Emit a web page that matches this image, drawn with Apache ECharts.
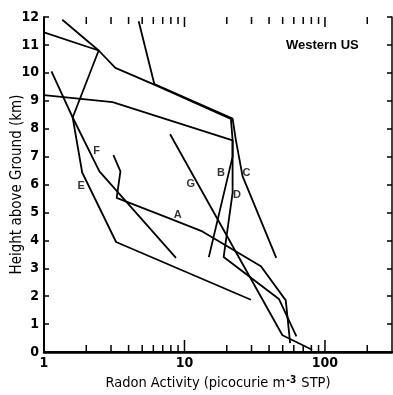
<!DOCTYPE html>
<html>
<head>
    <meta charset="utf-8"/>
    <title>Radon profiles - Western US</title>
    <style>
        html, body { margin: 0; padding: 0; background: #fff; }
        #main { width: 393px; height: 395px; }
    </style>
</head>
<body>
<div id="main"></div>
<script src="https://cdn.jsdelivr.net/npm/echarts@6/dist/echarts.min.js"></script>
<script>
    // profiles: [radon activity, height km]
    var curveA = [[3.12, 7.05], [3.5, 6.47], [3.29, 5.52], [7.18, 4.86], [13.4, 4.32], [35, 3.07], [52.6, 1.85], [56.5, 0.32]];
    var curveB = [[1.0, 9.2], [3.08, 8.95], [22, 7.58], [22, 7.0], [14.9, 3.4]];
    var curveC = [[4.72, 11.85], [6.1, 9.6], [22, 8.36], [23.2, 7.6], [25.9, 6.3], [45, 3.37]];
    var curveD = [[1.0, 11.45], [2.45, 10.8], [3.22, 10.18], [6.1, 9.58], [21.4, 8.35], [22, 7.6], [22, 5.7], [19, 3.4], [47, 1.9], [62.6, 0.56]];
    var curveE = [[1.13, 10.05], [1.6, 8.4], [1.87, 6.43], [3.26, 3.94], [29.7, 1.87]];
    var curveF = [[1.35, 11.9], [2.45, 10.8], [1.6, 8.4], [2.48, 6.47], [8.7, 3.37]];
    var curveG = [[7.9, 7.8], [49.8, 0.6], [81, 0.08]];

    var curveNames = ['A', 'B', 'C', 'D', 'E', 'F', 'G'];
    var labelPoints = [[8.94, 4.92], [18.2, 6.42], [27.6, 6.42], [23.6, 5.64], [1.84, 5.95], [2.37, 7.19], [11.1, 6.03]];

    var xLabels = [1, 10, 100];
    var xMajorTicks = [1, 10, 100];
    var xMinorTicks = [2, 3, 4, 5, 6, 7, 8, 9, 20, 30, 40, 50, 60, 70, 80, 90, 200];

    var narrow = "'Liberation Sans Narrow', 'DejaVu Sans Condensed', sans-serif";

    var chart = echarts.init(document.getElementById('main'), null, {renderer: 'canvas'});

    var curves = [curveA, curveB, curveC, curveD, curveE, curveF, curveG];
    var series = curves.map(function (c, i) {
        return {
            name: curveNames[i],
            type: 'line',
            data: c,
            showSymbol: false,
            silent: true,
            lineStyle: {color: '#000', width: 1.8},
            z: 3
        };
    });

    // letter labels next to each profile
    series.push({
        type: 'scatter',
        symbolSize: 0,
        silent: true,
        data: labelPoints.map(function (p, i) {
            return {name: curveNames[i], value: p};
        }),
        label: {
            show: true,
            position: 'inside',
            formatter: '{b}',
            color: '#000',
            fontSize: 11,
            fontWeight: 'bold',
            fontFamily: 'Liberation Sans, Arial, sans-serif'
        },
        z: 4
    });

    // log ticks on bottom and top frame (inward)
    var tickData = xMajorTicks.map(function (v) { return [v, 1]; })
        .concat(xMinorTicks.map(function (v) { return [v, 0]; }));
    series.push({
        type: 'custom',
        silent: true,
        data: tickData,
        renderItem: function (params, api) {
            var v = api.value(0);
            var major = api.value(1);
            var b = api.coord([v, 0]);
            var t = api.coord([v, 12]);
            var st = {stroke: '#000', lineWidth: 1.5};
            return {
                type: 'group',
                children: [
                    {type: 'line', shape: {x1: b[0], y1: b[1], x2: b[0], y2: b[1] - (major ? 12 : 7)}, style: st},
                    {type: 'line', shape: {x1: t[0], y1: t[1], x2: t[0], y2: t[1] + (major ? 10 : 7)}, style: st}
                ]
            };
        },
        z: 5
    });

    var option = {
        animation: false,
        backgroundColor: '#fff',
        title: {
            text: 'Western US',
            left: 281,
            top: 34,
            textStyle: {
                fontSize: 13,
                fontWeight: 'bold',
                color: '#000',
                fontFamily: 'Liberation Sans, Arial, sans-serif'
            }
        },
        grid: {left: 44, right: 1, top: 17, bottom: 43, outerBoundsMode: 'none'},
        xAxis: [{
            type: 'log',
            logBase: 10,
            min: 1,
            max: 300,
            position: 'bottom',
            name: 'Radon Activity (picocurie m{sup|-3} STP)',
            nameLocation: 'middle',
            nameGap: 23,
            nameTextStyle: {
                color: '#000',
                fontSize: 14.5,
                fontFamily: narrow,
                rich: {
                    sup: {fontSize: 10, fontFamily: narrow, fontWeight: 'bold', color: '#000',
                        verticalAlign: 'bottom', padding: [0, 1, 7, 1]}
                }
            },
            axisLine: {show: true, lineStyle: {color: '#000', width: 2.5}},
            axisTick: {show: false},
            splitLine: {show: false},
            axisLabel: {
                color: '#000',
                fontSize: 14,
                fontWeight: 'bold',
                fontFamily: narrow,
                margin: 4,
                showMaxLabel: false,
                formatter: function (v) {
                    return xLabels.indexOf(Math.round(v)) >= 0 ? String(Math.round(v)) : '';
                }
            }
        }, {
            type: 'log',
            logBase: 10,
            min: 1,
            max: 300,
            position: 'top',
            axisLine: {show: true, lineStyle: {color: '#000', width: 2}},
            axisTick: {show: false},
            axisLabel: {show: false},
            splitLine: {show: false}
        }],
        yAxis: [{
            type: 'value',
            min: 0,
            max: 12,
            interval: 1,
            position: 'left',
            name: 'Height above Ground (km)',
            nameLocation: 'middle',
            nameGap: 19,
            nameMoveOverlap: false,
            nameRotate: 90,
            nameTextStyle: {color: '#000', fontSize: 15, fontFamily: narrow},
            axisLine: {show: true, lineStyle: {color: '#000', width: 2}},
            axisTick: {show: true, inside: true, length: 5, lineStyle: {color: '#000', width: 1.5}},
            splitLine: {show: false},
            axisLabel: {color: '#000', fontSize: 14, fontWeight: 'bold', fontFamily: narrow, margin: 5}
        }, {
            type: 'value',
            min: 0,
            max: 12,
            interval: 1,
            position: 'right',
            axisLine: {show: true, lineStyle: {color: '#000', width: 1.5}},
            axisTick: {show: true, inside: true, length: 5, lineStyle: {color: '#000', width: 1.5}},
            axisLabel: {show: false},
            splitLine: {show: false}
        }],
        series: series
    };

    chart.setOption(option);
</script>
</body>
</html>
